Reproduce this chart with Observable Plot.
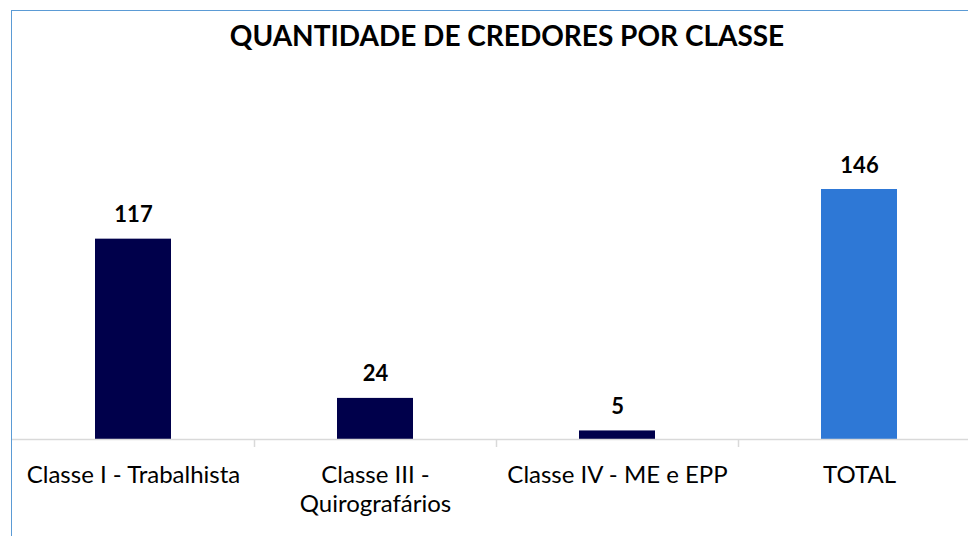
<!DOCTYPE html>
<html><head><meta charset="utf-8">
<script src="https://cdn.jsdelivr.net/npm/d3@7"></script>
<script src="https://cdn.jsdelivr.net/npm/@observablehq/plot@0.6"></script>
<style>
html,body{margin:0;padding:0;background:#fff;}
#wrap{position:relative;width:968px;height:536px;overflow:hidden;}
#frame{position:absolute;left:11px;top:10px;width:1000px;height:600px;border-left:1.5px solid #5b9bd5;border-top:1.5px solid #5b9bd5;box-sizing:border-box;}
#title{position:absolute;left:0;top:18px;width:1014px;text-align:center;font:bold 28px Lato,sans-serif;color:#000;}
#chart{position:absolute;left:0;top:0;}
</style></head>
<body><div id="wrap"><div id="frame"></div><div id="chart"></div><div id="title">QUANTIDADE DE CREDORES POR CLASSE</div></div>
<script>
const categories = ["Classe I - Trabalhista", "Classe III - Quirografários", "Classe IV - ME e EPP", "TOTAL"];
const tickLabels = ["Classe I - Trabalhista", "Classe III -\nQuirografários", "Classe IV - ME e EPP", "TOTAL"];
const values = [117, 24, 5, 146];
const barColors = ["#00004b", "#00004b", "#00004b", "#2e78d6"];

const data = categories.map((c, i) => ({cat: c, value: values[i], color: barColors[i], label: tickLabels[i]}));
const W = 968, H = 536;
const step = (980 - 12) / categories.length;

const plot = Plot.plot({
  width: W, height: H,
  marginLeft: 12, marginRight: 0, marginTop: 189, marginBottom: 97,
  style: {fontFamily: "Lato, sans-serif", background: "transparent", overflow: "visible"},
  x: {domain: categories, range: [12, 980], paddingInner: 0.686, paddingOuter: 0.343, align: 0.5, label: null},
  y: {domain: [0, 146], axis: null},
  marks: [
    Plot.barY(data, {x: "cat", y: "value", fill: "color"}),
    Plot.ruleY([0], {stroke: "#d9d9d9", strokeWidth: 1.5}),
    Plot.ruleX(categories.slice(1), {x: d => d, dx: -step / 2, y1: 0, y2: 0, insetTop: 0, insetBottom: -8, stroke: "#d9d9d9", strokeWidth: 1.5}),
    Plot.axisX({label: null, tickSize: 0, tickPadding: 23, fontSize: 24, lineHeight: 1.2, fill: "#000", tickFormat: d => tickLabels[categories.indexOf(d)]}),
    Plot.text(data, {x: "cat", y: "value", text: d => String(d.value), lineAnchor: "bottom", dy: -17, fontSize: 22, fontWeight: "bold", fill: "#000"})
  ]
});
document.getElementById("chart").appendChild(plot);
</script></body></html>
